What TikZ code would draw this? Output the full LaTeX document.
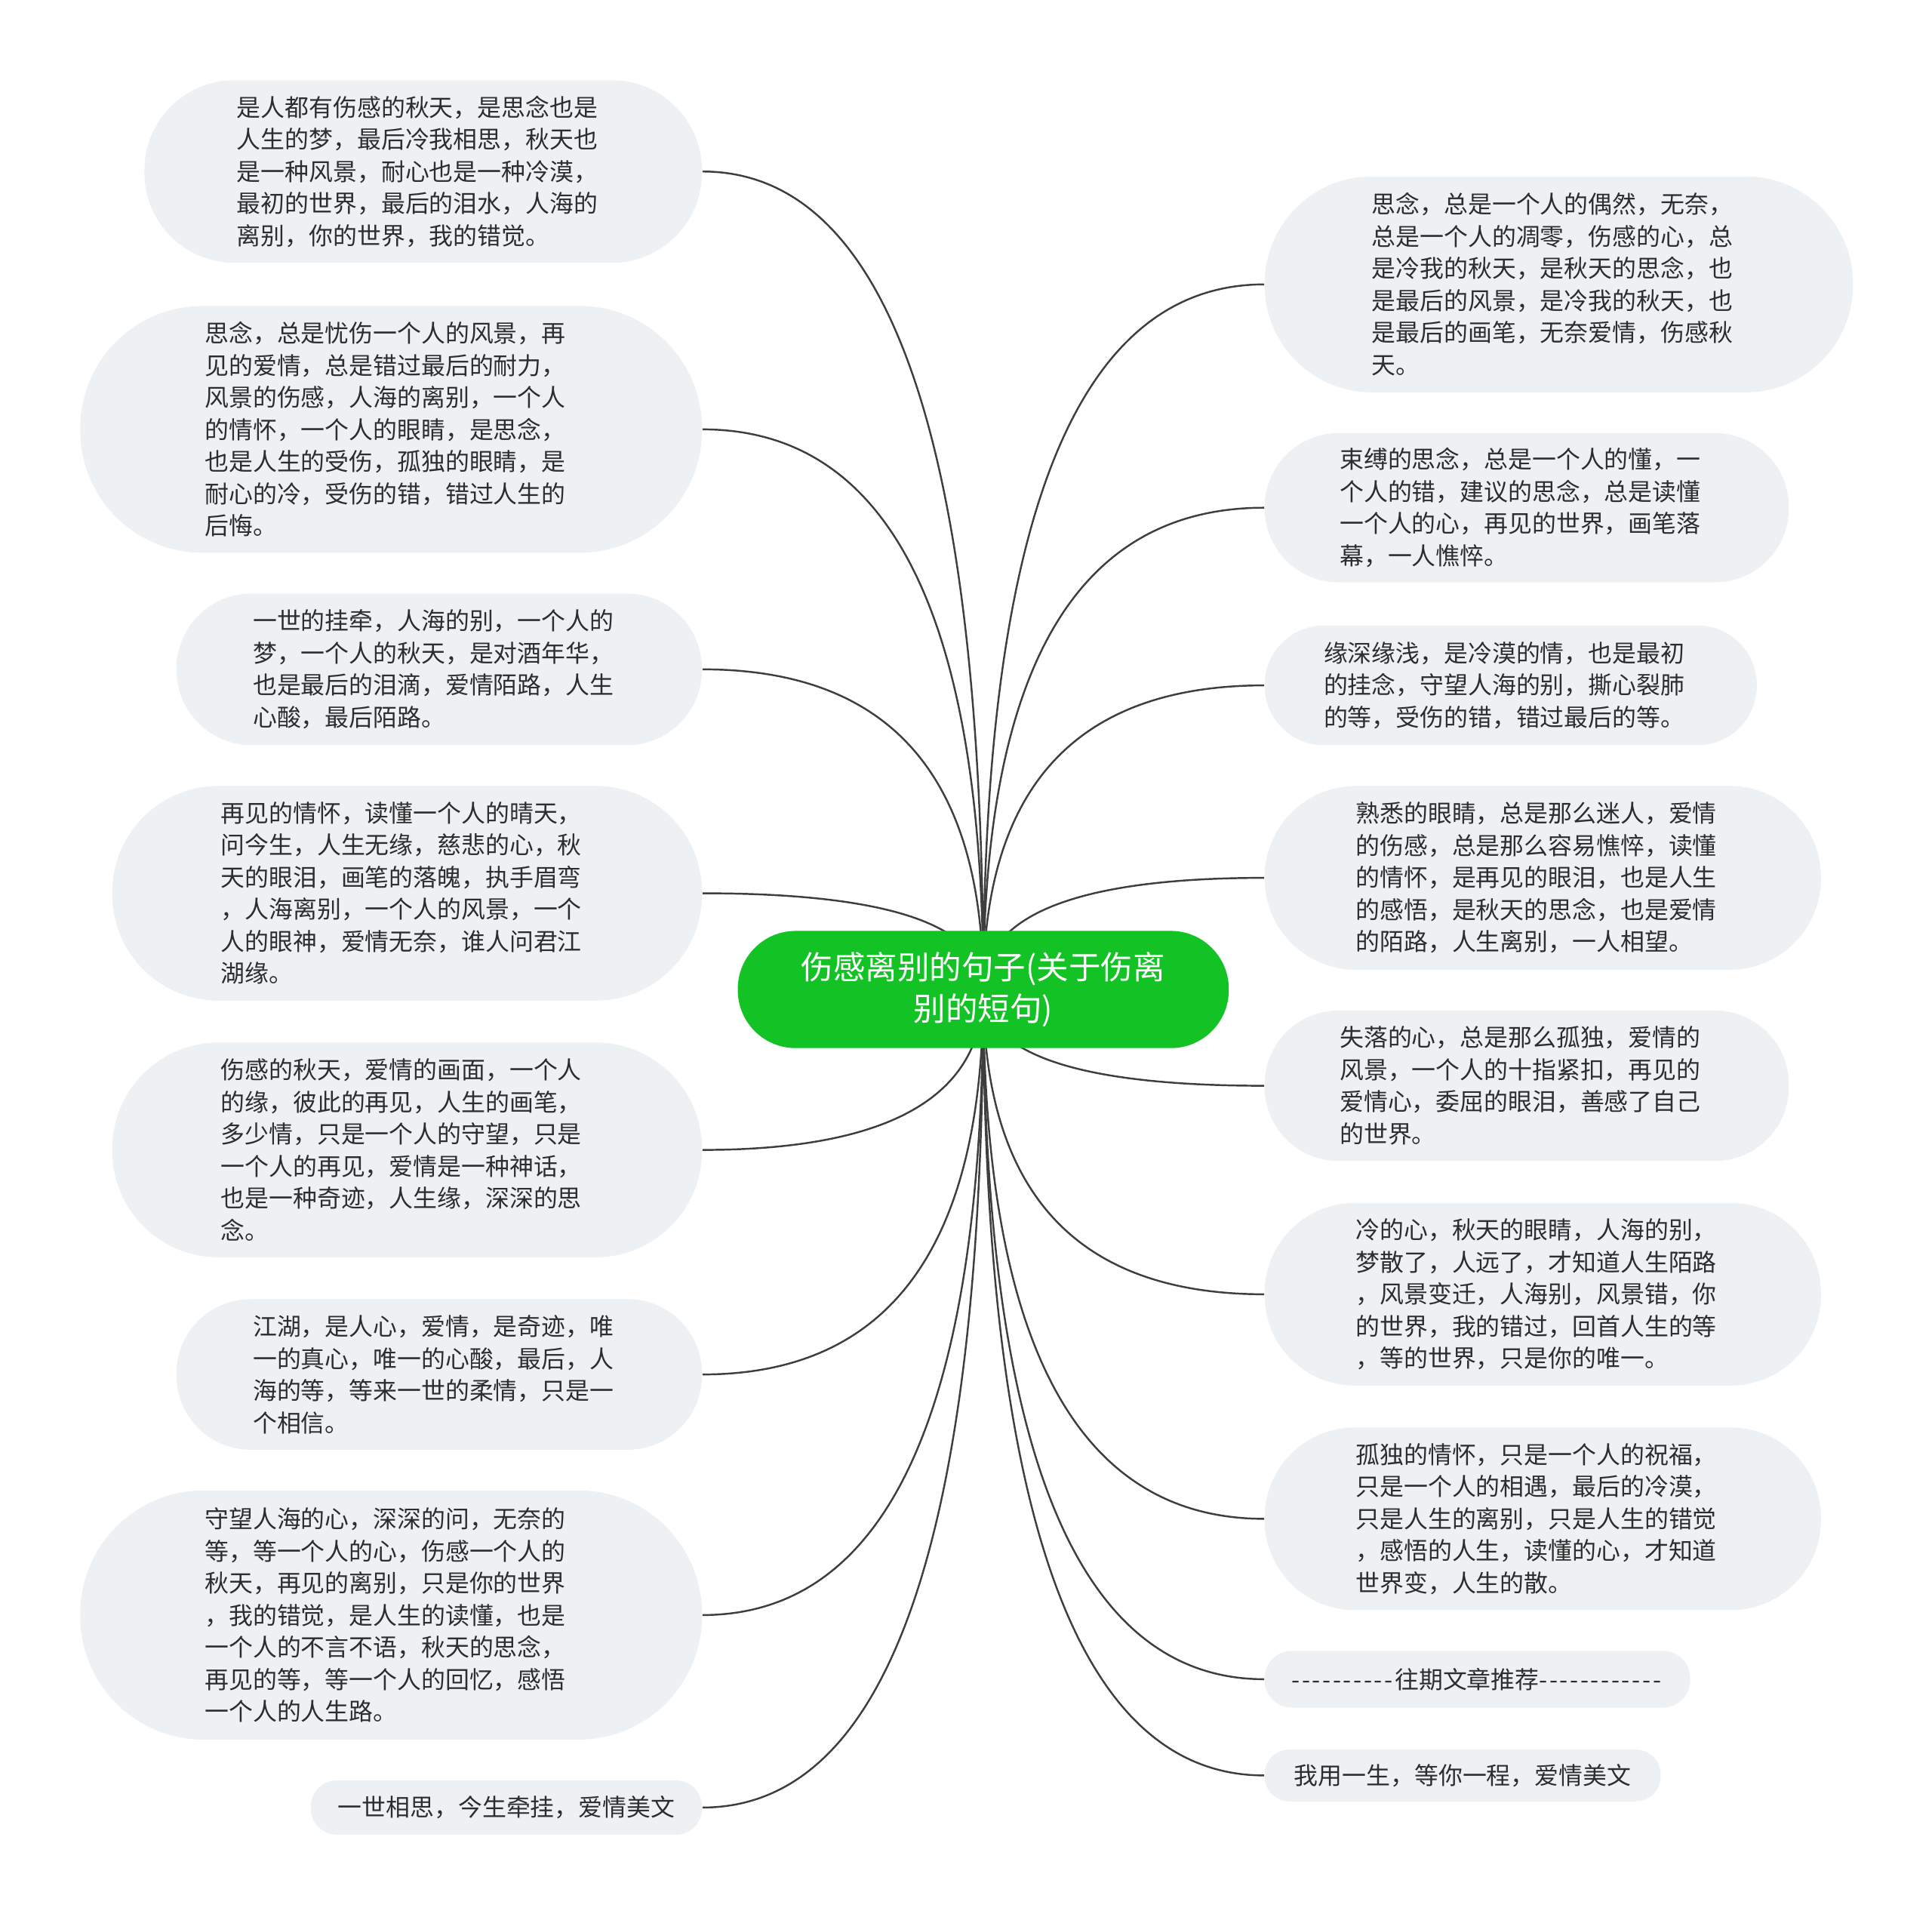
\documentclass[tikz,border=0pt]{standalone}
\usepackage{fontspec}
\newfontfamily\cjk[Ligatures=TeXOff]{Noto Sans CJK SC}
\usetikzlibrary{calc,backgrounds}

\definecolor{bubblefill}{RGB}{238,241,244}
\definecolor{rootgreen}{RGB}{19,194,36}
\definecolor{linkgray}{RGB}{62,62,62}
\definecolor{textgray}{RGB}{45,45,45}

\newcommand{\dashrun}[1]{\foreach \i in {1,...,#1}{-\kern1.6pt}}

\tikzset{every picture/.style={line width=0.75pt}}
\tikzset{
  bubble/.style={fill=bubblefill, text=textgray, align=left, inner ysep=0pt,
    font=\cjk\fontsize{19.5}{26}\selectfont},
  link/.style={draw=linkgray, line width=1.5},
}

\begin{document}
\begin{tikzpicture}[x=1pt,y=1pt,yscale=-1]

\useasboundingbox (0,0) rectangle (1566,1551);

\node (root) [fill=rootgreen, text=white, align=center, inner sep=0pt, minimum width=398, minimum height=95, rounded corners=47, font=\cjk\fontsize{26}{34}\selectfont] at (797,802) {伤感离别的句子(关于伤离\\别的短句)};

% left side
\node (l1) [bubble, minimum width=452, minimum height=148, inner xsep=75, text width=302, rounded corners=73] at (343,139) {是人都有伤感的秋天，是思念也是\\人生的梦，最后冷我相思，秋天也\\是一种风景，耐心也是一种冷漠，\\最初的世界，最后的泪水，人海的\\离别，你的世界，我的错觉。};
\node (l2) [bubble, minimum width=504, minimum height=200, inner xsep=101, text width=302, rounded corners=99] at (317,348) {思念，总是忧伤一个人的风景，再\\见的爱情，总是错过最后的耐力，\\风景的伤感，人海的离别，一个人\\的情怀，一个人的眼睛，是思念，\\也是人生的受伤，孤独的眼睛，是\\耐心的冷，受伤的错，错过人生的\\后悔。};
\node (l3) [bubble, minimum width=426, minimum height=123, inner xsep=62, text width=302, rounded corners=61] at (356,542.5) {一世的挂牵，人海的别，一个人的\\梦，一个人的秋天，是对酒年华，\\也是最后的泪滴，爱情陌路，人生\\心酸，最后陌路。};
\node (l4) [bubble, minimum width=478, minimum height=174, inner xsep=88, text width=302, rounded corners=86] at (330,724) {再见的情怀，读懂一个人的晴天，\\问今生，人生无缘，慈悲的心，秋\\天的眼泪，画笔的落魄，执手眉弯\\，人海离别，一个人的风景，一个\\人的眼神，爱情无奈，谁人问君江\\湖缘。};
\node (l5) [bubble, minimum width=478, minimum height=174, inner xsep=88, text width=302, rounded corners=86] at (330,932) {伤感的秋天，爱情的画面，一个人\\的缘，彼此的再见，人生的画笔，\\多少情，只是一个人的守望，只是\\一个人的再见，爱情是一种神话，\\也是一种奇迹，人生缘，深深的思\\念。};
\node (l6) [bubble, minimum width=426, minimum height=122, inner xsep=62, text width=302, rounded corners=60] at (356,1114) {江湖，是人心，爱情，是奇迹，唯\\一的真心，唯一的心酸，最后，人\\海的等，等来一世的柔情，只是一\\个相信。};
\node (l7) [bubble, minimum width=504, minimum height=202, inner xsep=101, text width=302, rounded corners=100] at (317,1309) {守望人海的心，深深的问，无奈的\\等，等一个人的心，伤感一个人的\\秋天，再见的离别，只是你的世界\\，我的错觉，是人生的读懂，也是\\一个人的不言不语，秋天的思念，\\再见的等，等一个人的回忆，感悟\\一个人的人生路。};
\node (l8) [bubble, minimum width=317, minimum height=44, inner xsep=0pt, rounded corners=21] at (410.5,1465) {一世相思，今生牵挂，爱情美文};

% right side
\node (r1) [bubble, minimum width=477, minimum height=175, inner xsep=87, text width=303, rounded corners=87] at (1263.5,230.5) {思念，总是一个人的偶然，无奈，\\总是一个人的凋零，伤感的心，总\\是冷我的秋天，是秋天的思念，也\\是最后的风景，是冷我的秋天，也\\是最后的画笔，无奈爱情，伤感秋\\天。};
\node (r2) [bubble, minimum width=425, minimum height=121, inner xsep=61, text width=303, rounded corners=60] at (1237.5,411.5) {束缚的思念，总是一个人的懂，一\\个人的错，建议的思念，总是读懂\\一个人的心，再见的世界，画笔落\\幕，一人憔悴。};
\node (r3) [bubble, minimum width=399, minimum height=97, inner xsep=48, text width=303, rounded corners=48] at (1224.5,555.5) {缘深缘浅，是冷漠的情，也是最初\\的挂念，守望人海的别，撕心裂肺\\的等，受伤的错，错过最后的等。};
\node (r4) [bubble, minimum width=451, minimum height=149, inner xsep=74, text width=303, rounded corners=74] at (1250.5,711.5) {熟悉的眼睛，总是那么迷人，爱情\\的伤感，总是那么容易憔悴，读懂\\的情怀，是再见的眼泪，也是人生\\的感悟，是秋天的思念，也是爱情\\的陌路，人生离别，一人相望。};
\node (r5) [bubble, minimum width=425, minimum height=122, inner xsep=61, text width=303, rounded corners=60] at (1237.5,880) {失落的心，总是那么孤独，爱情的\\风景，一个人的十指紧扣，再见的\\爱情心，委屈的眼泪，善感了自己\\的世界。};
\node (r6) [bubble, minimum width=451, minimum height=148, inner xsep=74, text width=303, rounded corners=73] at (1250.5,1049) {冷的心，秋天的眼睛，人海的别，\\梦散了，人远了，才知道人生陌路\\，风景变迁，人海别，风景错，你\\的世界，我的错过，回首人生的等\\，等的世界，只是你的唯一。};
\node (r7) [bubble, minimum width=451, minimum height=148, inner xsep=74, text width=303, rounded corners=73] at (1250.5,1231) {孤独的情怀，只是一个人的祝福，\\只是一个人的相遇，最后的冷漠，\\只是人生的离别，只是人生的错觉\\，感悟的人生，读懂的心，才知道\\世界变，人生的散。};
\node (r8) [bubble, minimum width=345, minimum height=46, inner xsep=0pt, rounded corners=22] at (1197.5,1361) {\dashrun{10}往期文章推荐\dashrun{12}};
\node (r9) [bubble, minimum width=321, minimum height=42, inner xsep=0pt, rounded corners=20] at (1185.5,1439) {我用一生，等你一程，爱情美文};

% connectors
\begin{pgfonlayer}{background}
\foreach \n/\a in {l1/east,l2/east,l3/east,l4/east,l5/east,l6/east,l7/east,l8/east,r1/west,r2/west,r3/west,r4/west,r5/west,r6/west,r7/west,r8/west,r9/west}
  \draw [link] (root.center) .. controls ($(root.center)!0.667!(root.center |- \n.\a)$) and ($(\n.\a)!0.667!(root.center |- \n.\a)$) .. (\n.\a);
\end{pgfonlayer}

\end{tikzpicture}
\end{document}
